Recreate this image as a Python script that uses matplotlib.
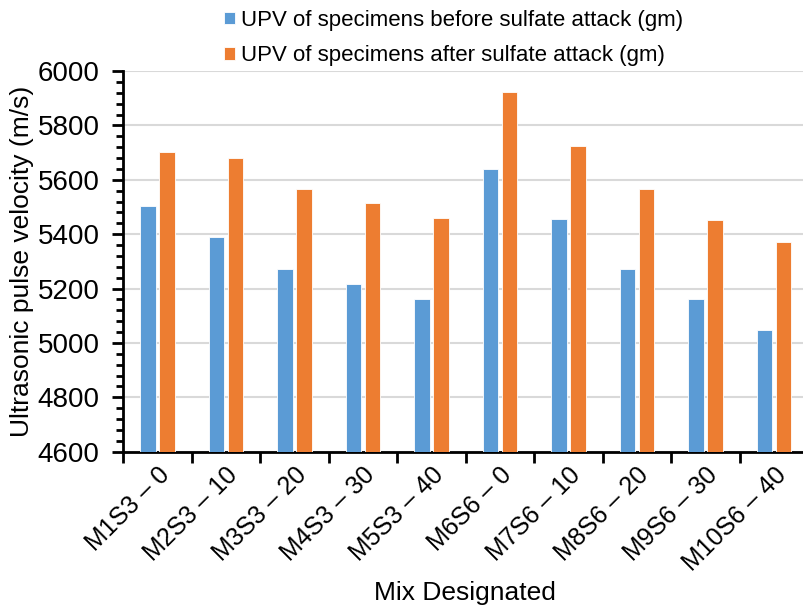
import numpy as np
import matplotlib.pyplot as plt

plt.rcParams['font.family'] = ['Liberation Sans', 'DejaVu Sans']

# data
mixes = ['M1S3 – 0', 'M2S3 – 10', 'M3S3 – 20', 'M4S3 – 30', 'M5S3 – 40',
         'M6S6 – 0', 'M7S6 – 10', 'M8S6 – 20', 'M9S6 – 30', 'M10S6 – 40']
upv_before = [5503, 5388, 5273, 5218, 5160, 5638, 5455, 5273, 5160, 5048]
upv_after = [5702, 5679, 5567, 5515, 5460, 5923, 5724, 5565, 5452, 5370]

blue = '#5B9BD5'
orange = '#ED7D31'

fig = plt.figure(figsize=(8.04, 6.10), dpi=100)
ax = fig.add_axes([123 / 804, (610 - 451.7) / 610, 685 / 804, 380.7 / 610])

x = np.arange(len(mixes))
w = 0.225
ax.bar(x - 0.135, upv_before, w, color=blue, edgecolor='white', linewidth=0.6,
       label='UPV of specimens before sulfate attack (gm)', zorder=3)
ax.bar(x + 0.145, upv_after, w, color=orange, edgecolor='white', linewidth=0.6,
       label='UPV of specimens after sulfate attack (gm)', zorder=3)

ax.set_ylim(4600, 6000)
ax.set_xlim(-0.5, len(mixes) - 0.5)
ax.set_yticks(np.arange(4600, 6001, 200))
ax.set_yticks(np.arange(4600, 6001, 40), minor=True)
ax.yaxis.grid(True, color='#d9d9d9', linewidth=1.5, zorder=0)

# category ticks sit between categories, labels at centers
ax.set_xticks(np.arange(-0.5, len(mixes)), minor=True)
ax.set_xticks(x)
ax.set_xticklabels(mixes, rotation=45, ha='right', va='top',
                   rotation_mode='anchor', fontsize=18)
ax.tick_params(axis='x', which='major', length=0, pad=8)
ax.tick_params(axis='x', which='minor', length=8, width=2, direction='out')
ax.tick_params(axis='y', which='major', length=8, width=2, labelsize=20, pad=9)
ax.tick_params(axis='y', which='minor', length=5, width=2)

for s in ['top', 'right']:
    ax.spines[s].set_visible(False)
for s in ['left', 'bottom']:
    ax.spines[s].set_linewidth(2)

ax.set_ylabel('Ultrasonic pulse velocity (m/s)', fontsize=19)
ax.yaxis.set_label_coords(-(123 - 22) / 685, 0.5)
ax.set_xlabel('Mix Designated', fontsize=19)
ax.xaxis.set_label_coords((465 - 123) / 685, -(593 - 451.7) / 380.7)
ax.xaxis.label.set_va('center')
ax.yaxis.label.set_va('center')

fig.legend(loc='upper left', bbox_to_anchor=(224 / 804, 1 - 10 / 610),
           frameon=False, fontsize=16, handlelength=0.5, handleheight=0.5,
           handletextpad=0.25, labelspacing=0.65, borderpad=0, borderaxespad=0)

fig.savefig('out.png', dpi=100)
